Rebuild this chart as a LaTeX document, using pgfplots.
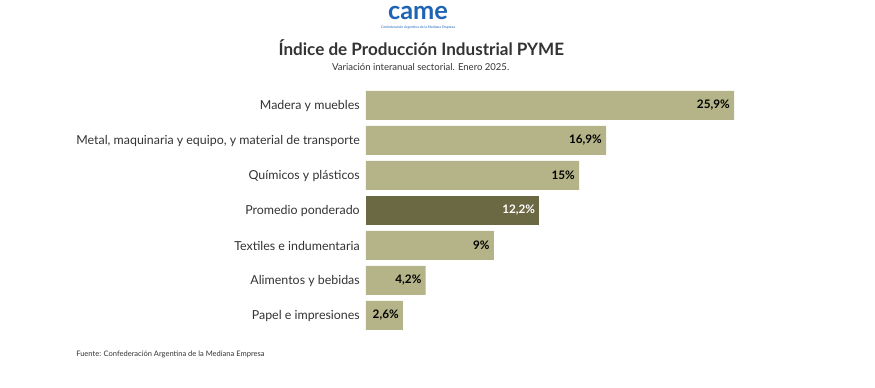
\documentclass[border=0pt]{standalone}
\usepackage{pgfplots}
\pgfplotsset{compat=1.18}
\usepackage{fontspec}
\setmainfont{Lato}
\definecolor{barlight}{HTML}{B4B488}
\definecolor{bardark}{HTML}{6B6844}
\definecolor{txt}{HTML}{333333}
\definecolor{cameblue}{HTML}{1E63B5}
\begin{document}
\begin{tikzpicture}
\path[use as bounding box] (0pt,0pt) rectangle (656.25pt,-291pt);
% logo
\node[font=\bfseries\fontsize{19}{19}\selectfont, text=cameblue, inner sep=0pt] at (313.5pt,-9.5pt) {came};
\node[font=\fontsize{2.6}{3}\selectfont, text=cameblue, inner sep=0pt] at (313.5pt,-20.5pt) {Confederación Argentina de la Mediana Empresa};
% titles
\node[font=\bfseries\fontsize{12.8}{15}\selectfont, text=txt, inner sep=0pt] at (316pt,-36pt) {Índice de Producción Industrial PYME};
\node[font=\fontsize{7.15}{9}\selectfont, text=txt, inner sep=0pt] at (315.5pt,-50.5pt) {Variación interanual sectorial. Enero 2025.};
\node[font=\fontsize{5.65}{7}\selectfont, text=txt, inner sep=0pt, anchor=west] at (57pt,-265.5pt) {Fuente: Confederación Argentina de la Mediana Empresa};
\begin{axis}[
  at={(274.5pt,-249.75pt)}, anchor=south west,
  scale only axis, width=276pt, height=183.75pt,
  xbar, bar width=21.75pt, bar shift=0pt,
  xmin=0, xmax=25.9, ymin=0.5, ymax=7.5,
  axis line style={draw=none}, xtick=\empty,
  ytick={1,...,7}, major tick length=0pt,
  yticklabels={Papel e impresiones, Alimentos y bebidas, Textiles e indumentaria, Promedio ponderado, Químicos y plásticos, {Metal, maquinaria y equipo, y material de transporte}, Madera y muebles},
  yticklabel style={font=\fontsize{9.3}{11}\selectfont, text=txt, inner sep=0pt, xshift=-4.5pt},
  nodes near coords, point meta=explicit symbolic,
  nodes near coords style={anchor=east, font=\bfseries\fontsize{8.8}{10}\selectfont, inner sep=0pt, xshift=-3pt},
  clip=false,
]
\addplot[fill=barlight, draw=none, nodes near coords style={text=black}] table[meta=lab] {
x y lab
2.6 1 2,6\%
4.2 2 4,2\%
9 3 9\%
15 5 15\%
16.9 6 16,9\%
25.9 7 25,9\%
};
\addplot[fill=bardark, draw=none, nodes near coords style={text=white}] table[meta=lab] {
x y lab
12.2 4 12,2\%
};
\end{axis}
\end{tikzpicture}
\end{document}
